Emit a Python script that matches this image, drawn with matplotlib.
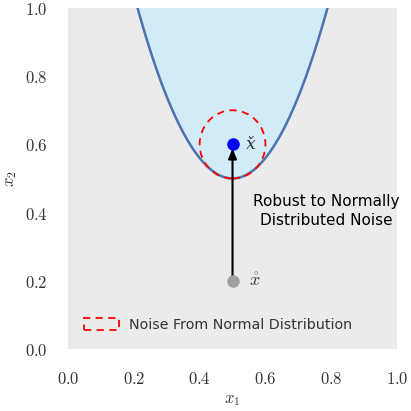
import numpy as np
import matplotlib
matplotlib.use("Agg")
import matplotlib.pyplot as plt
from matplotlib.patches import Circle, Patch

plt.rcParams['mathtext.fontset'] = 'cm'

# data
curvature = 6.0
vertex = (0.5, 0.5)
x_check = (0.5, 0.6)
x_ring = (0.5, 0.2)
noise_radius = 0.1
ticks = [0.0, 0.2, 0.4, 0.6, 0.8, 1.0]
tick_labels = ["0.0", "0.2", "0.4", "0.6", "0.8", "1.0"]

fig = plt.figure(figsize=(4.11, 4.11), dpi=100)
ax = fig.add_axes([0.1655, 0.151, 0.8005, 0.8295])
ax.set_facecolor('#ebebeb')
for s in ax.spines.values():
    s.set_visible(False)

xs = np.linspace(0, 1, 400)
ys = curvature * (xs - vertex[0]) ** 2 + vertex[1]
ax.fill_between(xs, ys, 1.2, color='#d1ebf7', zorder=1)
ax.plot(xs, ys, color='#4c72b0', lw=1.8, zorder=2)

circ = Circle(x_check, noise_radius, fill=False, ec='red', ls=(0, (4, 3)), lw=1.3, zorder=3)
ax.add_patch(circ)

ax.annotate('', xy=(x_check[0], x_check[1] - 0.012), xytext=x_ring,
            arrowprops=dict(arrowstyle='-|>,head_length=0.6,head_width=0.25', color='black', lw=1.5,
                            shrinkA=0, shrinkB=0), zorder=4)
ax.plot(*x_check, 'o', color='blue', ms=8, zorder=5)
ax.plot(*x_ring, 'o', color='#a0a0a0', ms=8, zorder=5)

ax.text(x_check[0] + 0.040, x_check[1], 'x\u030c', fontsize=12.5, va='center', ha='left',
        family='DejaVu Serif', style='italic', color='#333333')
ax.text(x_ring[0] + 0.05, x_ring[1], r'$\mathring{x}$', fontsize=13, va='center', ha='left',
        color='#333333')
ax.text(0.785, 0.405, 'Robust to Normally\nDistributed Noise', fontsize=11, ha='center',
        va='center', family='DejaVu Sans', linespacing=1.35)

ax.set_xlim(0, 1)
ax.set_ylim(0, 1)
ax.set_xticks(ticks)
ax.set_yticks(ticks)
ax.set_xticklabels(['$' + t + '$' for t in tick_labels], fontsize=12)
ax.set_yticklabels(['$' + t + '$' for t in tick_labels], fontsize=12)
ax.tick_params(axis='x', length=0, pad=15.5, colors='#333333')
ax.tick_params(axis='y', length=0, pad=14.5, colors='#333333')
ax.set_xlabel('$x_1$', fontsize=12, color='#333333', labelpad=1)
ax.set_ylabel('$x_2$', fontsize=12, color='#333333', labelpad=4)

leg = ax.legend(handles=[Patch(facecolor='none', edgecolor='red', ls=(0, (4, 3)), lw=1.3,
                               label='Noise From Normal Distribution')],
                loc='lower left', frameon=False, fontsize=10.3, bbox_to_anchor=(0.01, 0.012),
                handlelength=2.4, handleheight=0.9, handletextpad=0.7)
for t in leg.get_texts():
    t.set_color('#333333')

fig.savefig('out.png', dpi=100)
